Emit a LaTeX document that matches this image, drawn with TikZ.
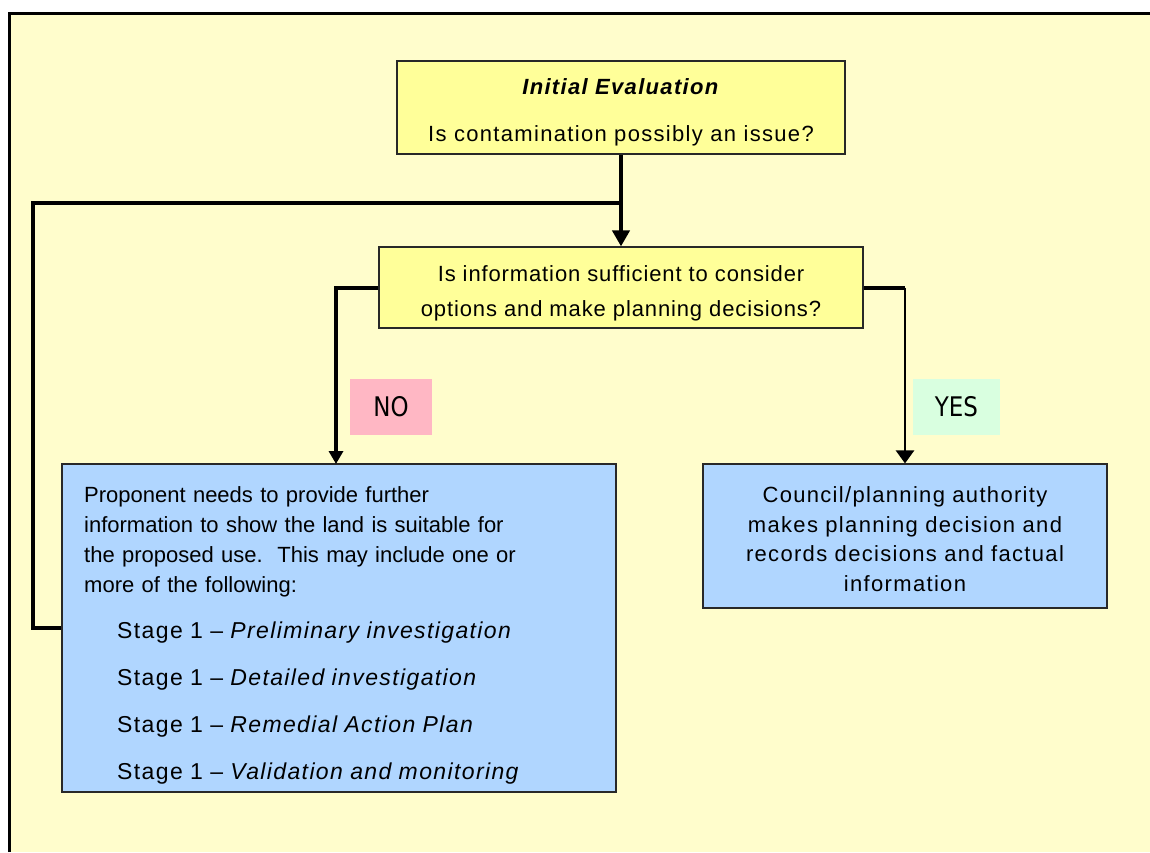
\documentclass[tikz,border=0pt]{standalone}
\usepackage{fontspec}
\setmainfont{Liberation Sans}
\newfontfamily\widefont[LetterSpace=6]{Liberation Sans}
\newfontfamily\midfont[LetterSpace=4]{Liberation Sans}
\newfontfamily\lblfont[FakeStretch=0.85]{DejaVu Sans}
\usetikzlibrary{arrows.meta}
\definecolor{bg}{RGB}{255,253,204}
\definecolor{ybox}{RGB}{255,255,153}
\definecolor{bbox}{RGB}{176,214,255}
\definecolor{nopink}{RGB}{255,183,196}
\definecolor{yesgreen}{RGB}{217,255,224}
\definecolor{edge}{RGB}{40,40,40}
\newcommand{\stageline}[1]{\hspace*{33pt}{\widefont\fontsize{23}{30}\selectfont Stage 1 – \textit{#1}}}
\begin{document}
\begin{tikzpicture}[x=1pt,y=-1pt,
  txt/.style={font=\fontsize{22}{30}\selectfont, inner sep=0pt},
  yellowbox/.style={draw=edge, line width=1.2pt, fill=ybox, inner sep=0pt},
  bluebox/.style={draw=edge, line width=1.2pt, fill=bbox, inner sep=0pt},
  lbl/.style={font=\lblfont\fontsize{27}{30}\selectfont, inner sep=0pt, minimum height=56},
  thickline/.style={line width=4pt, line join=miter},
  arrowbig/.style={thickline, -{Triangle[width=17pt,length=16pt]}},
  arrowleft/.style={thickline, -{Triangle[width=14pt,length=13pt]}},
  arrowright/.style={line width=2.6pt, -{Triangle[width=18pt,length=13pt]}}
]
\useasboundingbox (0,0) rectangle (1150,852);
\fill[white] (0,0) rectangle (1150,852);
\fill[bg] (9,13) rectangle (1150,852);
\draw[line width=3pt] (9,852) -- (9,13) -- (1150,13);

% boxes
\node[yellowbox, minimum width=448, minimum height=93] (eval) at (621,107.5) {};
\node[txt, align=center, font=\widefont\fontsize{22}{30}\selectfont] (evaltxt) at (621,112)
  {\textbf{\textit{Initial Evaluation}}\\[17pt] Is contamination possibly an issue?};
\node[yellowbox, minimum width=484, minimum height=81] (info) at (621,287.5) {};
\node[txt, align=center, font=\midfont\fontsize{22}{30}\selectfont] (infotxt) at (621,293)
  {Is information sufficient to consider\\[5pt] options and make planning decisions?};
\node[bluebox, minimum width=554, minimum height=328] (prop) at (339,628) {};
\node[txt, text width=520, align=left, anchor=north west] (proptxt) at (84,486)
  {Proponent needs to provide further\\
   information to show the land is suitable for\\
   the proposed use.\ \ This may include one or\\
   more of the following:\\[16pt]
   \stageline{Preliminary investigation}\\[17pt]
   \stageline{Detailed investigation}\\[17pt]
   \stageline{Remedial Action Plan}\\[17pt]
   \stageline{Validation and monitoring}};
\node[bluebox, minimum width=404, minimum height=144] (council) at (905,536) {};
\node[txt, align=center, font=\widefont\fontsize{22}{29.5}\selectfont] (counciltxt) at (905,539)
  {Council/planning authority\\ makes planning decision and\\ records decisions and factual\\ information};

% labels
\node[lbl, fill=nopink, minimum width=82] (no) at (391,407) {NO};
\node[lbl, fill=yesgreen, minimum width=87] (yes) at (956.5,407) {YES};

% connectors
\coordinate (junc) at (621,203);
\coordinate (loopl) at (33,203);
\coordinate (nodrop) at (336,464);
\draw[arrowbig] (eval.south) -- (info.north);
\draw[thickline] (junc) -- (loopl) |- (prop.west);
\draw[arrowleft] (info.west) -| (nodrop);
\draw[thickline] (info.east) -- (info.east -| council.north);
\draw[arrowright] (info.east -| council.north) -- (council.north);
\end{tikzpicture}
\end{document}
